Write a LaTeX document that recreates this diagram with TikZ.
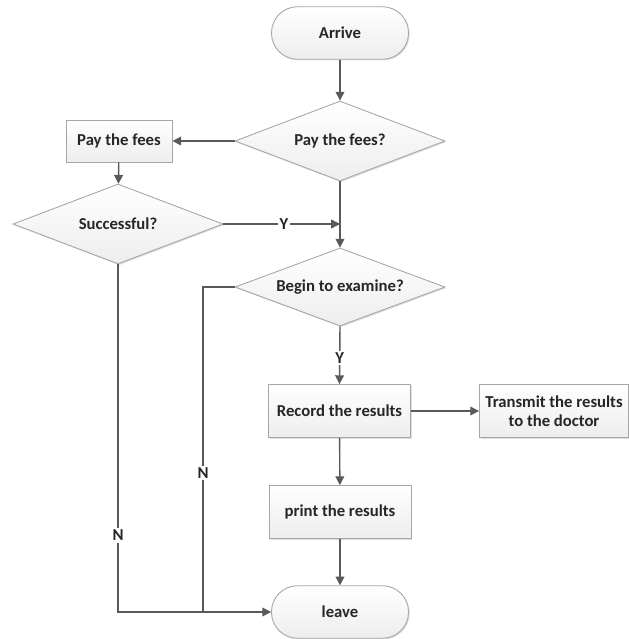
\documentclass[tikz,border=0pt]{standalone}
\usepackage{fontspec}
\setmainfont{Carlito}
\usepackage{tikz}
\usetikzlibrary{shapes,arrows.meta,positioning,calc,shadows}

\definecolor{edgegray}{HTML}{A6A6A6}
\definecolor{linegray}{HTML}{595959}
\definecolor{textgray}{HTML}{262626}

\begin{document}
\begin{tikzpicture}[
    font=\fontsize{9.5}{11}\selectfont\bfseries,
    text=textgray,
    base/.style={draw=edgegray, line width=0.5pt, top color=white, bottom color=gray!14, drop shadow={shadow xshift=0.7pt, shadow yshift=-0.7pt, opacity=0.25}},
    terminal/.style={base, rectangle, rounded corners=0.52cm, minimum width=2.74cm, minimum height=1.05cm},
    proc/.style={base, rectangle, minimum width=2.84cm, minimum height=1.06cm, align=center},
    decision/.style={base, diamond, aspect=2.6, inner sep=0pt, minimum width=4.2cm, minimum height=1.6cm},
    arrow/.style={-{Triangle[length=5pt,width=5pt]}, draw=linegray, line width=0.8pt},
    link/.style={draw=linegray, line width=0.8pt},
    lbl/.style={fill=white, inner sep=1pt, text=textgray}
]
\useasboundingbox (0,0) rectangle (12.58,-12.78);

% nodes
\node[terminal] (arrive) at (6.80,-0.66) {Arrive};
\node[decision] (payq) at (6.80,-2.82) {Pay the fees?};
\node[proc, minimum width=2.12cm, minimum height=0.84cm] (pay) at (2.38,-2.82) {Pay the fees};
\node[decision] (succ) at (2.36,-4.48) {Successful?};
\node[decision, minimum height=1.56cm] (begin) at (6.80,-5.74) {Begin to examine?};
\node[proc] (record) at (6.79,-8.22) {Record the results};
\node[proc] (transmit) at (11.08,-8.22) {Transmit the results\\to the doctor};
\node[proc] (print) at (6.80,-10.24) {print the results};
\node[terminal] (leave) at (6.80,-12.24) {leave};
\coordinate (njoin) at (4.06,-12.26);

% connectors
\draw[arrow] (arrive) -- (payq);
\draw[arrow] (payq.west) -- (pay.east);
\draw[arrow] (pay) -- (succ);
\draw[arrow] (payq.south) -- (begin.north);
\draw[arrow] (succ.east) -- (payq.south |- succ.east) node[lbl, pos=0.52] {Y};
\draw[arrow] (begin.south) -- (record.north) node[lbl, pos=0.55] {Y};
\draw[arrow] (record) -- (transmit);
\draw[arrow] (record) -- (print);
\draw[arrow] (print) -- (leave);
\draw[link] (begin.west) -| (njoin) node[lbl, pos=0.785] {N};
\draw[arrow] (succ.south) |- (leave.west) node[lbl, pos=0.39] {N};

\end{tikzpicture}
\end{document}
